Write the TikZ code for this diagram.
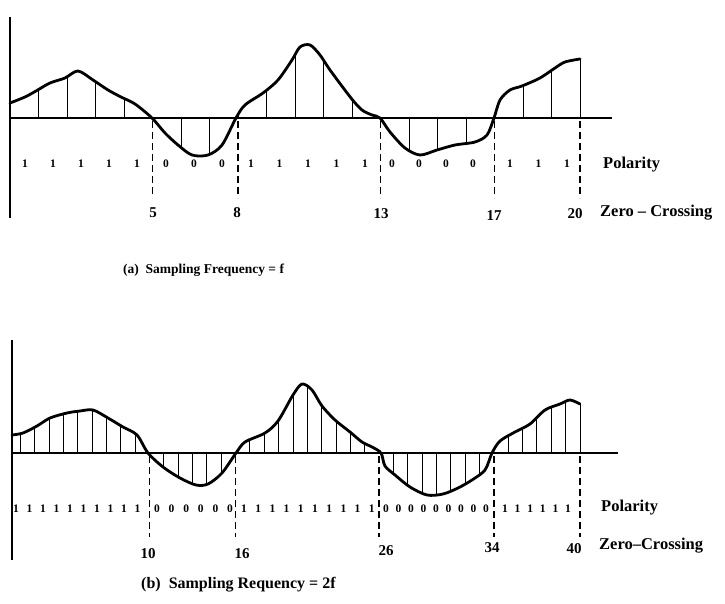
\documentclass[tikz,border=0pt]{standalone}
\usepackage{fontspec}
\setmainfont{Liberation Serif}
\newcommand\sigA{plot[smooth] coordinates {(10,103) (25,97) (36,91) (50,83) (65,78) (78,71) (93,80) (108,90) (121,97) (135,104) (152,118) (165,133) (178,145) (192,155) (208,155) (222,145) (236,118) (245,105) (263,93) (278,80) (292,60) (300,47) (310,45) (320,55) (330,70) (351,98) (362,110) (372,115) (380,118) (390,132) (405,148) (420,155) (437,150) (455,145) (475,142) (487,135) (494,118) (500,100) (510,90) (522,86) (540,78) (555,68) (565,62) (580,59)}}
\newcommand\sigB{plot[smooth] coordinates {(12,435) (23,433) (37,426) (50,418) (67,413) (80,411) (93,410) (108,418) (123,427) (137,435) (148,453) (163,467) (180,478) (196,485) (208,484) (222,473) (236,453) (245,442) (265,433) (278,421) (293,395) (302,384) (312,390) (322,406) (335,420) (350,432) (362,442) (372,447) (381,453) (385,466) (395,475) (410,487) (427,495) (443,494) (458,488) (472,480) (485,470) (492,453) (500,441) (515,432) (530,424) (545,410) (560,404) (570,400) (580,404)}}
\begin{document}
\begin{tikzpicture}[x=1pt,y=-1pt,
  sig/.style={line width=2.8pt, line join=round, line cap=round},
  axisline/.style={line width=1.4pt},
  sampleline/.style={line width=1pt},
  zcline/.style={line width=1.3pt, dash pattern=on 7pt off 4pt},
  pol/.style={font=\fontsize{11.5}{13}\selectfont\bfseries, inner sep=0pt},
  num/.style={font=\fontsize{15}{17}\selectfont\bfseries, inner sep=0pt},
  lab/.style={font=\fontsize{16.5}{18}\selectfont\bfseries, inner sep=0pt, anchor=west},
  capa/.style={font=\fontsize{13.5}{15}\selectfont\bfseries, inner sep=0pt, anchor=west},
  capb/.style={font=\fontsize{16}{18}\selectfont\bfseries, inner sep=0pt, anchor=west}]
\useasboundingbox (0,0) rectangle (725,604);

% ---------- panel (a) ----------
\begin{scope}
  \clip \sigA -- (582,59) -- (582,118) -- (10,118) -- cycle;
  \foreach \k in {1,...,20} \draw[sampleline] ({10+28.5*\k},0) -- ({10+28.5*\k},250);
\end{scope}
\draw[axisline] (10,17) -- (10,218);
\draw[axisline] (10,118) -- (612,118);
\draw[sig] \sigA;
\foreach \k in {5,8,13,17,20}
  \draw[zcline] ({10+28.5*\k},121) -- ({10+28.5*\k},198);
\foreach \i in {0,...,4} \node[pol] (pa1\i) at ({25+\i*28},164) {1};
\foreach \i in {0,...,2} \node[pol] (pa2\i) at ({166+\i*28},164) {0};
\foreach \i in {0,...,4} \node[pol] (pa3\i) at ({251+\i*28.5},164) {1};
\foreach \i in {0,...,3} \node[pol] (pa4\i) at ({392+\i*27},164) {0};
\foreach \i in {0,...,2} \node[pol] (pa5\i) at ({510+\i*28.5},164) {1};
\node[num] (za5) at (153,213) {5};
\node[num] (za8) at (237,213) {8};
\node[num] (za13) at (381,214) {13};
\node[num] (za17) at (494,216) {17};
\node[num] (za20) at (575,214) {20};
\node[lab] (pola) at (603,165) {Polarity};
\node[lab] (zca) at (600,213) {Zero – Crossing};
\node[capa] (capta) at (123,270) {(a)\enspace Sampling Frequency = f};

% ---------- panel (b) ----------
\begin{scope}
  \clip \sigB -- (582,404) -- (582,453) -- (12,453) -- cycle;
  \foreach \k in {1,...,40} \draw[sampleline] ({6+14.35*\k},330) -- ({6+14.35*\k},600);
\end{scope}
\draw[axisline] (12,340) -- (12,560);
\draw[axisline] (12,453) -- (618,453);
\draw[sig] \sigB;
\foreach \k in {10,16,26,34,40}
  \draw[zcline] ({6+14.35*\k},456) -- ({6+14.35*\k},537);
\foreach \i in {0,...,9} \node[pol] (pb1\i) at ({16+\i*13.5},509) {1};
\foreach \i in {0,...,5} \node[pol] (pb2\i) at ({157+\i*14.6},509) {0};
\foreach \i in {0,...,9} \node[pol] (pb3\i) at ({244+\i*14.2},509) {1};
\foreach \i in {0,...,8} \node[pol] (pb4\i) at ({386+\i*12.5},509) {0};
\foreach \i in {0,...,5} \node[pol] (pb5\i) at ({505+\i*12.6},509) {1};
\node[num] (zb10) at (148,554) {10};
\node[num] (zb16) at (242,554) {16};
\node[num] (zb26) at (386,551) {26};
\node[num] (zb34) at (492,548) {34};
\node[num] (zb40) at (574,549) {40};
\node[lab] (polb) at (601,508) {Polarity};
\node[lab] (zcb) at (599,546) {Zero–Crossing};
\node[capb] (captb) at (141,585) {(b)\enspace Sampling Requency = 2f};
\end{tikzpicture}
\end{document}
